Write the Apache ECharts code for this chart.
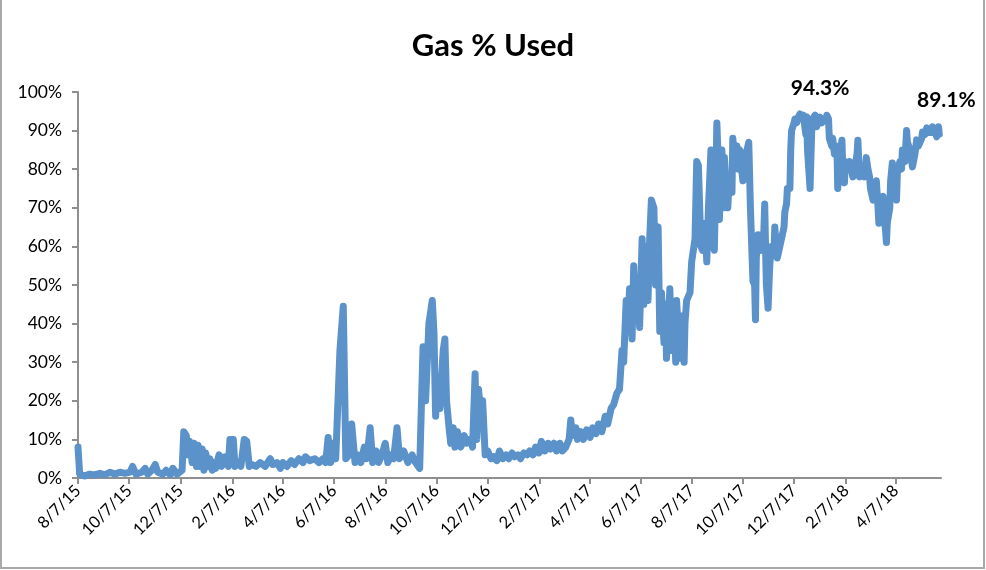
<!DOCTYPE html>
<html>
<head>
<meta charset="utf-8">
<script src="https://cdn.jsdelivr.net/npm/echarts@6/dist/echarts.min.js"></script>
<style>
html,body{margin:0;padding:0;background:#fff;}
#wrap{position:relative;width:986px;height:570px;overflow:hidden;}
#chart{position:absolute;left:0;top:0;width:986px;height:570px;}
#frame{position:absolute;left:0;top:-4px;width:981px;height:569px;border:2px solid #a9a9a9;pointer-events:none;}
</style>
</head>
<body>
<div id="wrap"><div id="chart"></div><div id="frame"></div></div>
<script>
const chartTitle = 'Gas % Used';
const startDate = '2015-08-07';
const endDate = '2018-05-31';
const tickLabels = ['8/7/15','10/7/15','12/7/15','2/7/16','4/7/16','6/7/16','8/7/16','10/7/16','12/7/16','2/7/17','4/7/17','6/7/17','8/7/17','10/7/17','12/7/17','2/7/18','4/7/18'];

// days since startDate
const days = [
0,2,8,14,20,26,32,38,44,50,56,62,65,69,76,80,83,88,92,95,101,105,110,113,118,121,124,
126,129,131,133,136,138,141,143,145,148,150,152,155,157,160,162,164,168,171,175,179,181,185,187,191,194,198,201,204,207,212,217,223,229,232,237,241,244,249,254,258,263,268,271,276,282,287,292,295,298,301,304,307,
312,316,319,323,326,330,333,337,341,344,348,351,355,358,362,366,369,373,376,380,383,388,393,398,402,407,
411,414,418,422,424,426,429,431,435,437,439,442,444,447,449,452,456,460,463,467,470,473,475,477,480,482,
485,488,492,495,499,502,506,510,513,517,520,524,527,531,535,538,542,545,549,552,556,560,563,567,570,574,577,581,
585,587,589,593,595,599,602,606,610,613,617,620,624,628,631,635,638,642,645,
648,650,653,655,657,660,662,664,667,669,672,674,676,679,681,683,686,688,691,693,695,698,700,701,704,705,707,710,712,713,716,717,719,722,723,725,729,
731,735,737,739,742,744,747,749,751,754,756,758,760,761,763,764,767,769,770,773,774,776,779,780,782,785,787,788,791,792,794,797,799,
801,803,804,806,807,808,810,812,814,817,818,819,820,822,824,826,829,830,832,833,836,838,841,842,844,845,
848,849,850,853,854,856,858,860,862,864,867,868,869,872,874,875,878,880,881,884,886,888,891,892,894,895,898,899,901,904,905,907,910,911,913,914,
917,919,922,923,925,928,929,930,931,934,935,937,939,941,943,944,947,949,951,953,954,956,959,960,962,963,964,967,968,970,973,975,976,
979,981,982,985,987,988,991,993,994,997,999,1001,1003,1005,1006,1009,1011,1013,1014,1017,1018,1020,1023,1025,1026
];

// gas used, percent
const gasUsed = [
8,1,0.5,1,0.8,1.2,0.8,1.5,1,1.5,1.2,1.5,3,1,1.5,2.5,1,2,3.5,1.5,1,2,0.8,2.5,1,1.5,2,
12,11,6,9.5,4,9,3,8.5,3,7.5,2,6.5,3,5,2,4,2.5,6,3,5.5,3,10,10,3,4,3,10,9.5,3,3.5,3,4,3,5,3.5,4,2.5,4,3,4.5,3.5,5,4,5.5,4.5,5,4,5,4,10.5,4,9,5,
33,44.5,5,6,14,4,6,4,8,5,13,4,7,4,6,9,4,6,5,13,5,7,4,6,4,2.5,
34,20,40,46,38,16,26,18,33,36,20,13,9,13,8,12,8,11,9,10,8,27,10,23,17,20,
6,7,5,5.5,4.5,7,5,6,5,6.5,5.5,6,5,6.5,6,7,6,8,6.5,9.5,7,9,7.5,9,7,9,7,8,
10,15,11,13,10,12,10,12.5,10.5,13,11.5,14,12,16,14,18,19,22,23,
33,30,46,39,49,36,55,42,50,39,62,45,60,46,62,72,70,50,65,38,48,35,45,31,44,49,33,44,30,46,35,31,42,30,40,46,48,
56,62,82,81,60,59,66,56,70,85,62,59,80,92,80,67,85,70,83,72,70,78,74,88,82,86,80,85,79,77,84,85,87,
70,57,51,50,41,57,63,60,59,64,71,60,50,44,55,60,58,65,59,57,60,62,65,69,71,75,
75,85,90,92,93,92,93.5,94.3,93,94,89,93.5,85,75,90,93,94,91,92,93.5,92,93,92.5,94,93,88,86,88,84,86,75,82,87.5,80,76.5,82,
80,82,79,78,80,84,87.5,82,78,79,80,78,83,80,78,75,72,75,77,70,66,71,73,68,64,61,66,70,77,81.6,76,72,79,
82,80,85,82,90,87,85,82,80.6,84,87.6,86,85.5,88,89.6,89,90.7,89.5,90,89.5,91,90.5,88.4,91,89.1
];

const peakLabel = { day: 884, value: 94.3, text: '94.3%' };
const lastLabel = { day: 1026, value: 89.1, text: '89.1%' };

const DAY = 86400000;
const t0 = Date.parse(startDate + 'T00:00:00Z');
const tEnd = Date.parse(endDate + 'T00:00:00Z');
function parseTick(s) {
  const p = s.split('/').map(Number);
  return Date.UTC(2000 + p[2], p[0] - 1, p[1]);
}
const tickDays = tickLabels.map(s => Math.round((parseTick(s) - t0) / DAY));
const tickMap = {};
tickDays.forEach((v, i) => { tickMap[v] = tickLabels[i]; });
const maxDay = Math.round((tEnd - t0) / DAY);

const seriesData = days.map((d, i) => [d, gasUsed[i]]);

const chart = echarts.init(document.getElementById('chart'), null, { renderer: 'canvas' });
const FONT = 'Lato, "Open Sans", sans-serif';
chart.setOption({
  animation: false,
  backgroundColor: '#fff',
  title: {
    text: chartTitle,
    left: 'center',
    top: 25,
    textStyle: { fontFamily: FONT, fontSize: 31, fontWeight: 'bold', color: '#000' }
  },
  grid: { left: 78, right: 45, top: 92, bottom: 92 },
  xAxis: {
    type: 'value',
    min: 0,
    max: maxDay,
    splitLine: { show: false },
    axisLine: { lineStyle: { color: '#8f8f8f', width: 2 } },
    axisTick: { show: true, customValues: tickDays, length: 6, lineStyle: { color: '#8f8f8f', width: 2 } },
    axisLabel: {
      customValues: tickDays,
      rotate: 45,
      color: '#000',
      fontFamily: FONT,
      fontSize: 16.5,
      margin: 10,
      showMinLabel: true,
      showMaxLabel: true,
      formatter: v => tickMap[Math.round(v)] || ''
    }
  },
  yAxis: {
    type: 'value',
    min: 0,
    max: 100,
    interval: 10,
    splitLine: { show: false },
    axisLine: { show: true, lineStyle: { color: '#8f8f8f', width: 2 } },
    axisTick: { show: true, length: 6, lineStyle: { color: '#8f8f8f', width: 2 } },
    axisLabel: { color: '#000', fontFamily: FONT, fontSize: 17.5, margin: 16, formatter: v => v + '%' }
  },
  series: [{
    type: 'line',
    data: seriesData,
    showSymbol: false,
    symbol: 'none',
    lineStyle: { color: '#5b92c9', width: 7, join: 'round', cap: 'round' },
    markPoint: {
      symbol: 'circle',
      symbolSize: 0,
      label: { show: true, fontFamily: FONT, fontSize: 21, fontWeight: 'bold', color: '#000' },
      data: [
        { coord: [peakLabel.day, peakLabel.value], label: { formatter: peakLabel.text, offset: [0, -26] } },
        { coord: [lastLabel.day, lastLabel.value], label: { formatter: lastLabel.text, offset: [7, -34] } }
      ]
    }
  }]
});
</script>
</body>
</html>
